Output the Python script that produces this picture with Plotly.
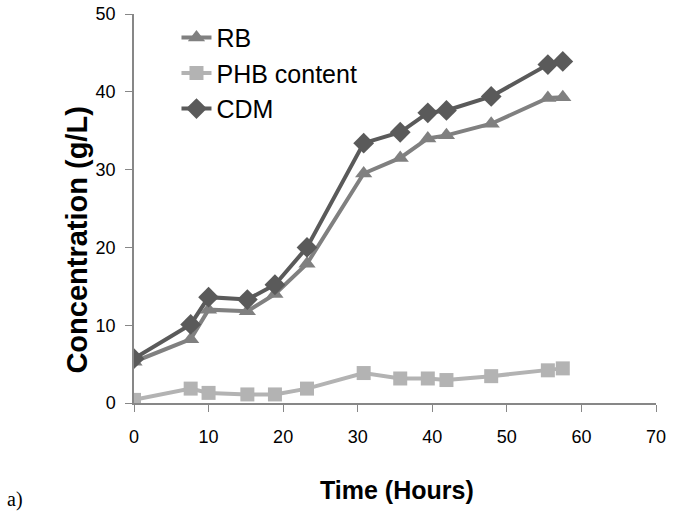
import plotly.graph_objects as go

time_h = [0, 7.6, 10, 15.2, 18.9, 23.2, 30.8, 35.7, 39.4, 41.9, 47.9, 55.5, 57.5]
rb = [5.3, 8.2, 12.0, 11.8, 14.0, 17.9, 29.5, 31.5, 34.0, 34.4, 35.9, 39.2, 39.3]
phb = [0.4, 1.85, 1.3, 1.1, 1.1, 1.85, 3.85, 3.15, 3.15, 2.95, 3.45, 4.2, 4.45]
cdm = [5.7, 10.1, 13.6, 13.3, 15.2, 20.0, 33.4, 34.8, 37.3, 37.6, 39.4, 43.5, 43.9]

x_ticks = [0, 10, 20, 30, 40, 50, 60, 70]
y_ticks = [0, 10, 20, 30, 40, 50]

font = "Liberation Sans, Arial, sans-serif"

W, H = 673, 512
l, r, t, b = 133.5, 17.3, 14.2, 109.3
pw, ph = W - l - r, H - t - b

def px_to_paper(px, py):
    return (px - l) / pw, 1 - (py - t) / ph

fig = go.Figure()
fig.add_trace(go.Scatter(x=time_h, y=rb, name="RB", mode="lines+markers",
                         line=dict(color="#808080", width=4),
                         marker=dict(symbol="triangle-up", size=15, color="#808080")))
fig.add_trace(go.Scatter(x=time_h, y=phb, name="PHB content", mode="lines+markers",
                         line=dict(color="#b3b3b3", width=4),
                         marker=dict(symbol="square", size=14, color="#b3b3b3")))
fig.add_trace(go.Scatter(x=time_h, y=cdm, name="CDM", mode="lines+markers",
                         line=dict(color="#5a5a5a", width=4),
                         marker=dict(symbol="diamond", size=16, color="#5a5a5a")))

axis_common = dict(showgrid=False, zeroline=False, showline=True, linecolor="#878787",
                   linewidth=1.5, ticks="outside", ticklen=7, tickcolor="#878787",
                   tickfont=dict(family=font, size=18, color="#000"))

fig.update_xaxes(range=[0, 70], tickvals=x_ticks, ticklabelstandoff=10, **axis_common)
fig.update_yaxes(range=[0, 50], tickvals=y_ticks, ticklabelstandoff=6, **axis_common)

xa, ya = px_to_paper(397, 490)
xb, yb = px_to_paper(77, 240)
xc, yc = px_to_paper(4, 486)
xl, yl = px_to_paper(176, 15)

fig.update_layout(
    width=W, height=H,
    margin=dict(l=l, r=r, t=t, b=b, autoexpand=False),
    paper_bgcolor="white", plot_bgcolor="white",
    showlegend=True,
    legend=dict(x=xl, y=yl, xanchor="left", yanchor="top",
                font=dict(family=font, size=25, color="#000"),
                bgcolor="rgba(0,0,0,0)", tracegroupgap=0, itemwidth=30),
    annotations=[
        dict(text="<b>Time (Hours)</b>", xref="paper", yref="paper", x=xa, y=ya,
             xanchor="center", yanchor="middle", showarrow=False,
             font=dict(family=font, size=25, color="#000")),
        dict(text="<b>Concentration (g/L)</b>", xref="paper", yref="paper", x=xb, y=yb,
             xanchor="center", yanchor="middle", textangle=-90, showarrow=False,
             font=dict(family=font, size=29, color="#000")),
        dict(text="a)", xref="paper", yref="paper", x=xc, y=yc,
             xanchor="left", yanchor="top", showarrow=False,
             font=dict(family="Liberation Serif, Times New Roman, serif", size=20, color="#000")),
    ],
)

fig.write_html("out.html", config={"displayModeBar": False},
               post_script="document.body.style.margin='0';document.body.style.overflow='hidden';")
